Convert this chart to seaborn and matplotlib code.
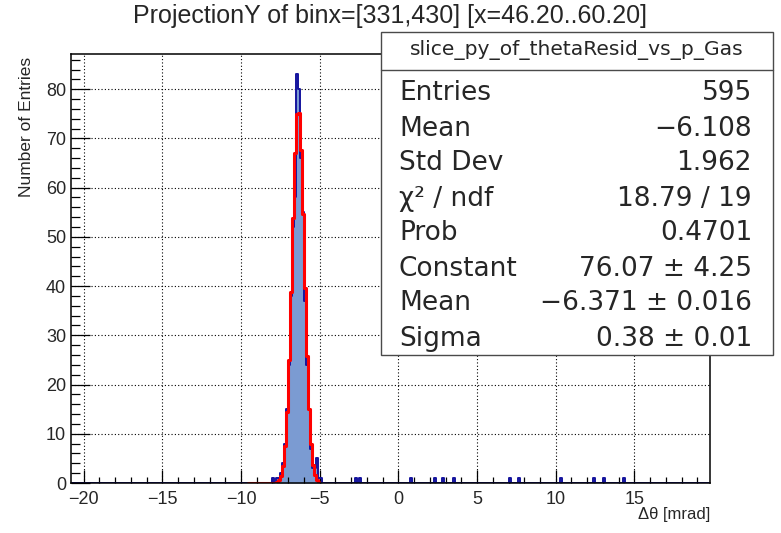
import numpy as np
import pandas as pd
import matplotlib
matplotlib.use("Agg")
import matplotlib.pyplot as plt
import seaborn as sns
from matplotlib.patches import Rectangle
from matplotlib.lines import Line2D

# ---------------- data ----------------
bin_width = 0.125
x_range = (-20.8, 19.8)
peak_centers = [-7.9375, -7.8125, -7.6875, -7.5625, -7.4375, -7.3125, -7.1875,
                -7.0625, -6.9375, -6.8125, -6.6875, -6.5625, -6.4375, -6.3125,
                -6.1875, -6.0625, -5.9375, -5.8125, -5.6875, -5.5625, -5.4375,
                -5.3125, -5.1875, -5.0625, -4.9375]
peak_counts = [1, 0, 1, 1, 2, 4, 8, 15, 24, 38, 52, 58, 83, 80, 66, 55, 37, 24,
               15, 7, 3, 3, 5, 1, 1]
outlier_x = [-2.7, -2.45, 0.75, 2.3, 2.75, 3.5, 7.1, 7.65, 10.3, 12.45, 13.0, 14.3]
outlier_counts = [1] * len(outlier_x)

fit_x = [-9.5625, -9.4375, -9.3125, -9.1875, -9.0625, -8.9375, -8.8125, -8.6875,
         -8.5625, -8.4375, -8.3125, -8.1875, -8.0625, -7.9375, -7.8125, -7.6875,
         -7.5625, -7.4375, -7.3125, -7.1875, -7.0625, -6.9375, -6.8125, -6.6875,
         -6.5625, -6.4375, -6.3125, -6.1875, -6.0625, -5.9375, -5.8125, -5.6875,
         -5.5625, -5.4375, -5.3125, -5.1875, -5.0625]
fit_y = [0, 0, 0, 0, 0, 0, 0, 0, 0, 0, 0, 0, 0, 0.0, 0.1, 0.2, 0.6, 1.5, 3.5,
         7.6, 14.5, 25.0, 38.7, 53.8, 67.0, 74.9, 75.2, 67.7, 54.7, 39.7, 25.8,
         15.1, 7.9, 3.7, 1.6, 0.6, 0.2]

title = "ProjectionY of binx=[331,430] [x=46.20..60.20]"
x_label = "Δθ [mrad]"
y_label = "Number of Entries"
x_ticks = [-20, -15, -10, -5, 0, 5, 10, 15]
y_ticks = [0, 10, 20, 30, 40, 50, 60, 70, 80]
stats_name = "slice_py_of_thetaResid_vs_p_Gas"
stats_keys = ["Entries", "Mean", "Std Dev", "χ² / ndf", "Prob", "Constant", "Mean", "Sigma"]
stats_vals = ["595", "−6.108", "1.962", "18.79 / 19", "0.4701",
              "76.07 ± 4.25", "−6.371 ± 0.016", "0.38 ± 0.01"]

# ---------------- figure ----------------
sns.set_theme(style="white")
plt.rcParams['font.family'] = ['Liberation Sans', 'DejaVu Sans']
plt.rcParams['axes.unicode_minus'] = True

W, H = 781, 533
fig = plt.figure(figsize=(W / 100, H / 100), dpi=100)
L, R, T, B = 71, 710, 54, 483
ax = fig.add_axes([L / W, 1 - B / H, (R - L) / W, (B - T) / H])

df = pd.DataFrame({
    "x": peak_centers + outlier_x,
    "w": peak_counts + outlier_counts,
})
edges = np.arange(-20.75, 19.75 + 1e-9, bin_width).tolist()

fill_col = "#7b9bd2"
line_col = "#15149e"
sns.histplot(data=df, x="x", weights="w", bins=edges, element="step", fill=True,
             color=fill_col, alpha=1.0, linewidth=0, ax=ax, zorder=2)
sns.histplot(data=df, x="x", weights="w", bins=edges, element="step", fill=False,
             color=line_col, linewidth=1.4, ax=ax, zorder=3)
sns.lineplot(x=fit_x, y=fit_y, drawstyle="steps-mid", color="#ff0000",
             linewidth=2.2, ax=ax, zorder=4, estimator=None, sort=False)

ax.set_xlim(*x_range)
ymax = max(peak_counts) * 1.05
ax.set_ylim(0, ymax)

# grid (dotted, behind histogram)
for xv in x_ticks:
    ax.axvline(xv, color="black", linestyle=(0, (1, 2)), linewidth=0.8, zorder=0.5)
for yv in y_ticks:
    ax.axhline(yv, color="black", linestyle=(0, (1, 2)), linewidth=0.8, zorder=0.5)

ax.set_axisbelow(False)
ax.set_xticks(x_ticks)
ax.set_yticks(y_ticks)
ax.set_xticks(np.arange(-20, 20, 1), minor=True)
ax.set_yticks(np.arange(0, 87, 2), minor=True)
ax.set_xticklabels([f"{v}".replace("-", "−") for v in x_ticks])
ax.set_yticklabels([str(v) for v in y_ticks])
ax.tick_params(axis="x", which="major", direction="in", length=9.2, width=0.9,
               color="black", labelsize=13, pad=5.5, bottom=True, top=False)
ax.tick_params(axis="x", which="minor", direction="in", length=4.6, width=0.9,
               color="black", bottom=True, top=False)
ax.tick_params(axis="y", which="major", direction="in", length=13.7, width=0.9,
               color="black", labelsize=13, pad=3.5, left=True, right=False)
ax.tick_params(axis="y", which="minor", direction="in", length=6.8, width=0.9,
               color="black", left=True, right=False)
for sp in ax.spines.values():
    sp.set_color("black")
    sp.set_linewidth(1.1)
    sp.set_zorder(6)

ax.set_xlabel(x_label, fontsize=12, loc="right")
ax.xaxis.set_label_coords(1.0, -(507 - B) / (B - T))
ax.set_ylabel(y_label, fontsize=12.5, loc="top")
ax.yaxis.set_label_coords(-(L - 34) / (R - L), 1.0 - 3 / (B - T))

fig.text(390 / W, 1 - 23 / H, title, ha="center", va="baseline", fontsize=18)

# stats box
bx0, by0, bx1, by1 = 381, 32, 773, 355
sep = 70
box_font = ['DejaVu Sans']
fig.patches.append(Rectangle((bx0 / W, 1 - by1 / H), (bx1 - bx0) / W, (by1 - by0) / H,
                             transform=fig.transFigure, facecolor="white",
                             edgecolor="#4a4a4a", linewidth=1.0, zorder=10))
fig.lines.append(Line2D([bx0 / W, bx1 / W], [1 - sep / H, 1 - sep / H],
                        transform=fig.transFigure, color="#4a4a4a", linewidth=1.0, zorder=11))
fig.text((bx0 + bx1) / 2 / W, 1 - 50 / H, stats_name, ha="center", va="center",
         fontsize=14.6, family=box_font, zorder=12)
base = 100.5
step = 35.0
for i, (k, v) in enumerate(zip(stats_keys, stats_vals)):
    yb = base + i * step
    fig.text(399 / W, 1 - yb / H, k, ha="left", va="baseline", fontsize=19,
             family=box_font, zorder=12)
    fig.text(752 / W, 1 - yb / H, v, ha="right", va="baseline", fontsize=19,
             family=box_font, zorder=12)

fig.savefig("out.png", dpi=100)
